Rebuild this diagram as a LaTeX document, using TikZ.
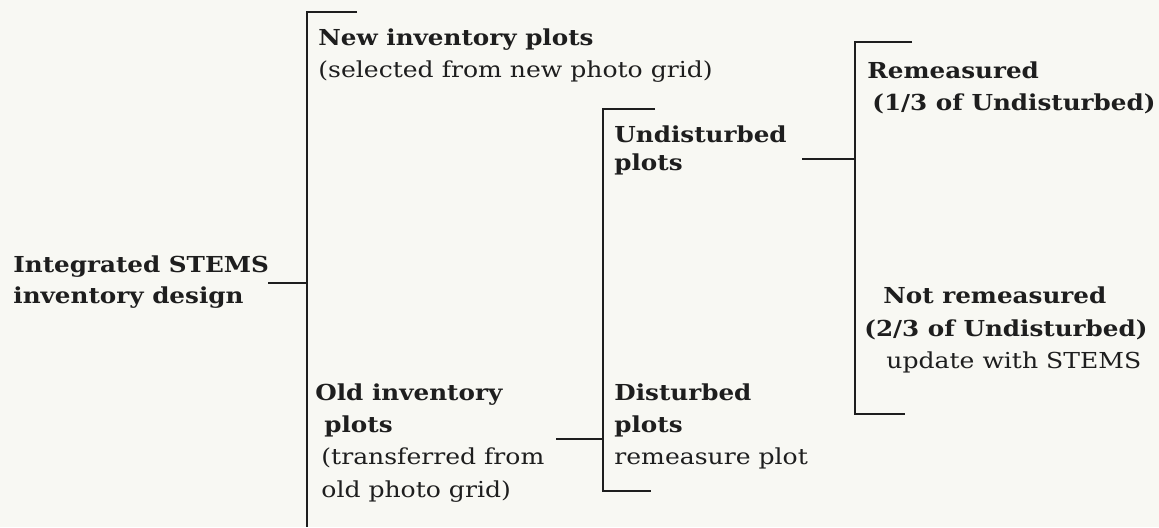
\documentclass[tikz,border=0pt]{standalone}
\usepackage{fontspec}
\setmainfont{DejaVu Serif}[FakeStretch=1.14, BoldFeatures={FakeStretch=1.12}]
\definecolor{bgc}{RGB}{248,248,243}
\definecolor{ink}{RGB}{30,30,30}
\tikzset{
  lbl/.style={anchor=base west, inner sep=0pt, text=ink, font=\fontsize{11}{13}\selectfont},
  blbl/.style={lbl, font=\fontsize{11}{13}\selectfont\bfseries},
  brk/.style={draw=ink, line width=1pt},
}
\begin{document}
\begin{tikzpicture}[x=0.5pt,y=-0.5pt]
\fill[bgc] (0,0) rectangle (1159,527);
\useasboundingbox (0,0) rectangle (1159,527);
% texts
\node[blbl] (int1) at (13,272) {Integrated STEMS};
\node[blbl] (int2) at (13,303) {inventory design};
\node[blbl] (new1) at (318,45) {New inventory plots};
\node[lbl]  (new2) at (318,77) {(selected from new photo grid)};
\node[blbl] (old1) at (315,400) {Old inventory};
\node[blbl] (old2) at (324,432) {plots};
\node[lbl]  (old3) at (321,464) {(transferred from};
\node[lbl]  (old4) at (321,497) {old photo grid)};
\node[blbl] (und1) at (614,142) {Undisturbed};
\node[blbl] (und2) at (614,170) {plots};
\node[blbl] (dis1) at (614,400) {Disturbed};
\node[blbl] (dis2) at (614,432) {plots};
\node[lbl]  (dis3) at (614,464) {remeasure plot};
\node[blbl] (rem1) at (867,78) {Remeasured};
\node[blbl] (rem2) at (872,110) {(1/3 of Undisturbed)};
\node[blbl] (nrm1) at (883,303) {Not remeasured};
\node[blbl] (nrm2) at (864,336) {(2/3 of Undisturbed)};
\node[lbl]  (nrm3) at (886,368) {update with STEMS};
% bracket coordinates
\coordinate (c1) at (268,283);
\coordinate (b1m) at (307,283);
\coordinate (b1t) at (307,12);
\coordinate (b1te) at (357,12);
\coordinate (b1b) at (307,527);
\coordinate (c2) at (556,439);
\coordinate (b2m) at (603,439);
\coordinate (b2t) at (603,109);
\coordinate (b2te) at (655,109);
\coordinate (b2b) at (603,491);
\coordinate (b2be) at (651,491);
\coordinate (c3) at (802,159);
\coordinate (b3m) at (855,159);
\coordinate (b3t) at (855,42);
\coordinate (b3te) at (912,42);
\coordinate (b3b) at (855,414);
\coordinate (b3be) at (905,414);
% connectors
\draw[brk] (c1) -- (b1m);
\draw[brk] (b1te) -- (b1t) -- (b1b);
\draw[brk] (c2) -- (b2m);
\draw[brk] (b2te) -- (b2t) -- (b2b) -- (b2be);
\draw[brk] (c3) -- (b3m);
\draw[brk] (b3te) -- (b3t) -- (b3b) -- (b3be);
\end{tikzpicture}
\end{document}
